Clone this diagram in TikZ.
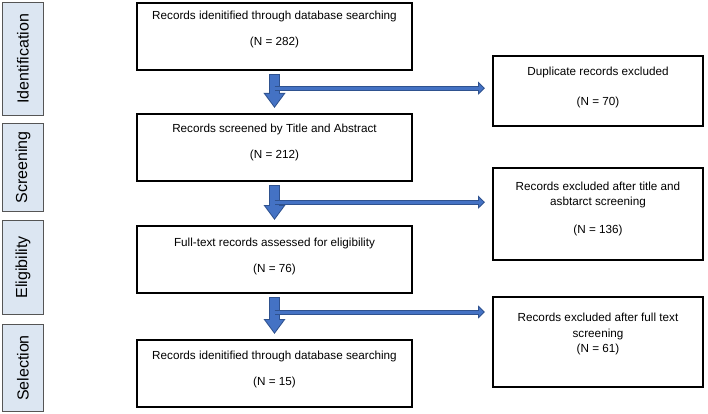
\documentclass[tikz,border=0pt]{standalone}
\usepackage{fontspec}
\setmainfont{Liberation Sans}
\usetikzlibrary{positioning,calc,arrows.meta}

\definecolor{stagefill}{RGB}{220,230,242}
\definecolor{stageedge}{RGB}{85,85,85}
\definecolor{flowfill}{RGB}{68,114,196}
\definecolor{flowedge}{RGB}{47,82,143}

\tikzset{
  stage/.style={draw=stageedge, fill=stagefill, line width=1pt, rotate=90,
    minimum height=41pt, inner sep=0pt, font=\fontsize{16}{19}\selectfont},
  recbox/.style={draw, line width=2pt, minimum width=275pt, minimum height=67pt},
  exbox/.style={draw, line width=2pt, minimum width=210pt},
  boxtext/.style={align=center, inner sep=0pt, anchor=north,
    font=\fontsize{11.7}{15}\selectfont},
  bigedge/.style={draw=flowedge, line width=11pt, -{Triangle[width=21pt,length=15pt]},
    shorten <=3pt, shorten >=5pt},
  bigflow/.style={draw=flowfill, line width=9pt, -{Triangle[width=17.2pt,length=12.3pt]},
    shorten <=4pt, shorten >=6.7pt},
  sideedge/.style={draw=flowedge, line width=5pt, -{Triangle[width=13pt,length=7pt]},
    shorten >=7pt},
  sideflow/.style={draw=flowfill, line width=3pt, -{Triangle[width=8.5pt,length=4.5pt]},
    shorten >=8.5pt}
}

\begin{document}
\begin{tikzpicture}[x=1pt, y=-1pt]
  \useasboundingbox (0,0) rectangle (708,414);
%  \draw[step=10pt,gray,very thin] (0,0) grid (708,414);	% for debug
  % stages
  \node[stage, minimum width=113pt] (sIdent) at (23,59) {Identification};
  \node[stage, minimum width=88pt] (sScreen) at (23,167.5) {Screening};
  \node[stage, minimum width=94pt] (sElig) at (23,267.5) {Eligibility};
  \node[stage, minimum width=87pt] (sSelect) at (23,368) {Selection};
  % main boxes
  \node[recbox] (rec) at (274.5,36.5) {};
  \node[recbox] (scr) at (274.5,147.5) {};
  \node[recbox] (elig) at (274.5,259.5) {};
  \node[recbox] (sel) at (274.5,373.5) {};
  \node[boxtext, below=9pt of rec.north] (recT) {Records idenitified through database searching\\[11pt](N = 282)};
  \node[boxtext, below=11pt of scr.north] (scrT) {Records screened by Title and Abstract\\[11pt](N = 212)};
  \node[boxtext, below=12.5pt of elig.north] (eligT) {Full-text records assessed for eligibility\\[11pt](N = 76)};
  \node[boxtext, below=12pt of sel.north] (selT) {Records idenitified through database searching\\[11pt](N = 15)};
  % excluded boxes
  \node[exbox, minimum height=70pt] (dup) at (598,91) {};
  \node[exbox, minimum height=92pt] (exTA) at (598,214) {};
  \node[exbox, minimum height=90pt] (exFT) at (598,342) {};
  \node[boxtext, below=12pt of dup.north] (dupT) {Duplicate records excluded\\[15pt](N = 70)};
  \node[boxtext, below=15pt of exTA.north] (exTAT) {Records excluded after title and\\asbtarct screening\\[13pt](N = 136)};
  \node[boxtext, below=16.5pt of exFT.north] (exFTT) {Records excluded after full text\\[1pt]screening\\(N = 61)};
  % arrows
  \foreach \a/\b in {rec/scr, scr/elig, elig/sel} {
    \draw[bigedge] (\a.south) -- (\b.north);
    \draw[bigflow] (\a.south) -- (\b.north);
  };
  \coordinate (m1) at ($(rec.south)!0.41!(scr.north)$);
  \coordinate (m2) at ($(scr.south)!0.47!(elig.north)$);
  \coordinate (m3) at ($(elig.south)!0.4!(sel.north)$);
  \foreach \m/\b in {m1/dup, m2/exTA, m3/exFT} {
    \draw[sideedge] (\m) -- (\m -| \b.west);
    \draw[sideflow] (\m) -- (\m -| \b.west);
  };
\end{tikzpicture}
\end{document}
